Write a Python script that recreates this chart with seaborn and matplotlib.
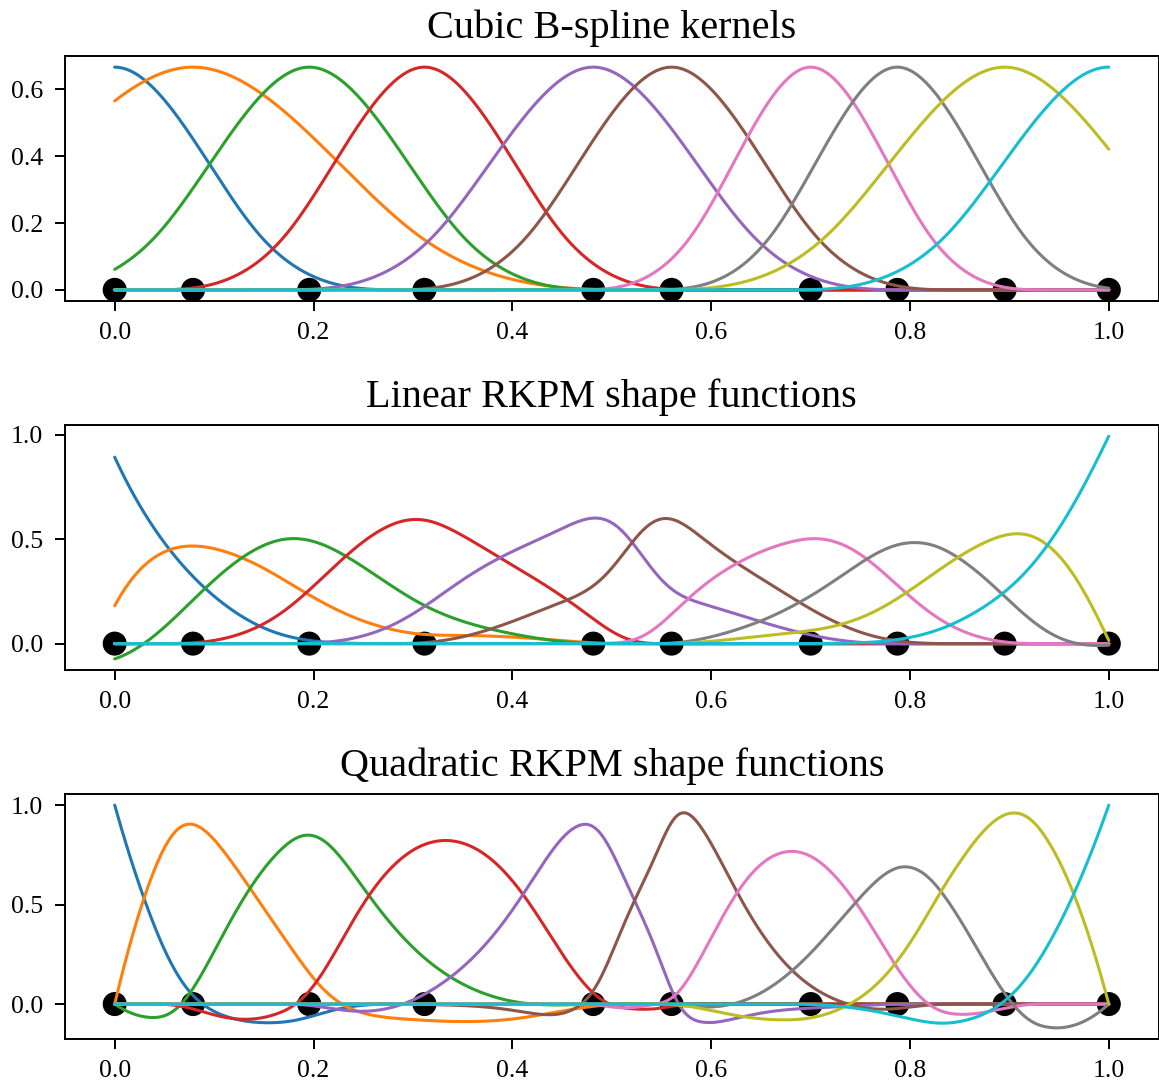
import numpy as np
import pandas as pd
import matplotlib
matplotlib.use("Agg")
import matplotlib.pyplot as plt
import seaborn as sns

# Particle (node) positions on [0, 1] and the support radius of each kernel
nodes = [0.0, 0.0788, 0.1957, 0.3116, 0.4814, 0.5602, 0.7002, 0.7873, 0.8952, 1.0]
supports = [0.29, 0.45, 0.305, 0.278, 0.318, 0.287, 0.238, 0.252, 0.355, 0.325]

titles = ["Cubic B-spline kernels", "Linear RKPM shape functions",
          "Quadratic RKPM shape functions"]
x_ticks = [0.0, 0.2, 0.4, 0.6, 0.8, 1.0]
y_ticks = [[0.0, 0.2, 0.4, 0.6], [0.0, 0.5, 1.0], [0.0, 0.5, 1.0]]

n_eval = 801


def cubic_bspline(z):
    z = np.abs(z)
    inner = 2.0 / 3.0 - 4.0 * z**2 + 4.0 * z**3
    outer = 4.0 / 3.0 - 4.0 * z + 4.0 * z**2 - 4.0 / 3.0 * z**3
    return np.where(z <= 0.5, inner, np.where(z <= 1.0, outer, 0.0))


def kernels(x, xi, a):
    # phi[I, j] = kernel of node I evaluated at x[j]
    return cubic_bspline((x[None, :] - xi[:, None]) / a[:, None])


def rkpm(x, xi, a, order):
    phi = kernels(x, xi, a)
    d = x[None, :] - xi[:, None]
    H = np.stack([d**k for k in range(order + 1)], axis=-1)  # (N, M, p)
    M = np.einsum("nm,nmp,nmq->mpq", phi, H, H)
    h0 = np.zeros(order + 1)
    h0[0] = 1.0
    b = np.linalg.solve(M, np.broadcast_to(h0, (len(x), order + 1))[..., None])[..., 0]
    return np.einsum("nmp,mp->nm", H, b) * phi


xi = np.asarray(nodes)
ai = np.asarray(supports)
x = np.linspace(0.0, 1.0, n_eval)

panels = [kernels(x, xi, ai), rkpm(x, xi, ai, 1), rkpm(x, xi, ai, 2)]

sns.set_style("ticks")
plt.rcParams["font.family"] = ["Liberation Serif", "DejaVu Serif"]
plt.rcParams["text.color"] = "black"
plt.rcParams["axes.labelcolor"] = "black"
plt.rcParams["axes.linewidth"] = 1.4
plt.rcParams["xtick.major.width"] = 1.4
plt.rcParams["ytick.major.width"] = 1.4
plt.rcParams["xtick.major.size"] = 7.2
plt.rcParams["ytick.major.size"] = 7.2
plt.rcParams["xtick.major.pad"] = 8
plt.rcParams["ytick.major.pad"] = 8.5
plt.rcParams["xtick.labelsize"] = 18.5
plt.rcParams["ytick.labelsize"] = 18.5
plt.rcParams["xtick.color"] = "black"
plt.rcParams["ytick.color"] = "black"
plt.rcParams["axes.edgecolor"] = "black"

W, H = 1159, 1084
fig = plt.figure(figsize=(W / 100, H / 100), dpi=100)
tops = [56, 425, 794]
ax_h = 245
left, right = 65, 1158.5

palette = sns.color_palette("tab10", len(nodes))
node_df = pd.DataFrame({"x": nodes, "y": np.zeros(len(nodes))})

for k, (vals, title) in enumerate(zip(panels, titles)):
    top = tops[k]
    ax = fig.add_axes([left / W, 1 - (top + ax_h) / H, (right - left) / W, ax_h / H])
    sns.scatterplot(data=node_df, x="x", y="y", ax=ax, color="black",
                    s=300, edgecolor="none", zorder=1, legend=False)
    df = pd.DataFrame({
        "x": np.tile(x, len(nodes)),
        "value": vals.ravel(),
        "node": np.repeat(np.arange(len(nodes)), len(x)),
    })
    sns.lineplot(data=df, x="x", y="value", hue="node", palette=palette,
                 ax=ax, linewidth=2.2, legend=False, estimator=None,
                 sort=False, zorder=2)
    ax.set_xticks(x_ticks)
    ax.set_yticks(y_ticks[k])
    ax.set_xlim(-0.05, 1.05)
    ymin, ymax = vals.min(), vals.max()
    pad = 0.05 * (ymax - ymin)
    ax.set_ylim(ymin - pad, ymax + pad)
    ax.set_xlabel("")
    ax.set_ylabel("")
    ax.set_title(title, fontsize=29, pad=13, color="black")
    for side in ["top", "right", "left", "bottom"]:
        ax.spines[side].set_visible(True)

fig.savefig("out.png", dpi=100)
